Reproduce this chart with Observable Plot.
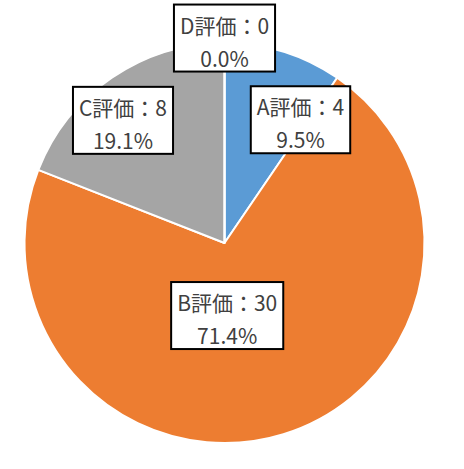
<!DOCTYPE html>
<html>
<head>
<meta charset="utf-8">
<script src="https://cdn.jsdelivr.net/npm/d3@7"></script>
<script src="https://cdn.jsdelivr.net/npm/@observablehq/plot@0.6"></script>
<style>
  html, body { margin: 0; padding: 0; background: #ffffff; }
  #chart { width: 464px; height: 469px; }
</style>
</head>
<body>
<div id="chart"></div>
<script>
// ---- data ----
const categories = ["A評価", "B評価", "C評価", "D評価"];
const counts = [4, 30, 8, 0];
const percentLabels = ["9.5%", "71.4%", "19.1%", "0.0%"];
const colors = ["#5B9BD5", "#ED7D31", "#A5A5A5", "#FFC000"];

// ---- layout (label anchors in pie-radius units, relative to pie centre) ----
const labelDX = [0.3775, 0.011, -0.51, -0.0025];
const labelDY = [0.6115, -0.3675, 0.6085, 1.02];

const W = 464, H = 469, R = 200, CX = 224.5, CY = 243;

const table = categories.map((c, i) => ({
  cat: c, count: counts[i], pct: percentLabels[i], color: colors[i],
  lx: labelDX[i], ly: labelDY[i]
}));

function pieMark(index, scales) {
  const cx = scales.x(0), cy = scales.y(0);
  const r = scales.x(1) - scales.x(0);
  const arcs = d3.pie().sort(null).value(d => d.count)(table);
  const arc = d3.arc().innerRadius(0).outerRadius(r);
  const g = d3.create("svg:g").attr("transform", `translate(${cx},${cy})`);
  g.selectAll("path").data(arcs).join("path")
    .attr("d", arc)
    .attr("fill", d => d.data.color)
    .attr("stroke", "#ffffff")
    .attr("stroke-width", 2)
    .attr("stroke-linejoin", "round");
  return g.node();
}

const plot = Plot.plot({
  width: W, height: H,
  margin: 0,
  style: { background: "#ffffff", fontFamily: "'Noto Sans CJK JP', sans-serif" },
  x: { domain: [-CX / R, (W - CX) / R], range: [0, W], axis: null },
  y: { domain: [-(H - CY) / R, CY / R], range: [H, 0], axis: null },
  marks: [
    pieMark,
    Plot.text(table, {
      x: "lx", y: "ly",
      text: d => `${d.cat}：${d.count}\n${d.pct}`,
      fontSize: 21,
      lineHeight: 1.57,
      fill: "#404040",
      fontFamily: "'Noto Sans CJK JP', sans-serif"
    })
  ]
});

document.getElementById("chart").appendChild(plot);

// label boxes behind the text
plot.querySelectorAll('g[aria-label="text"] text').forEach(t => {
  const bb = t.getBBox();
  const rect = document.createElementNS("http://www.w3.org/2000/svg", "rect");
  const h = 67, padX = 6;
  const cyb = bb.y + bb.height / 2 - 3;
  rect.setAttribute("x", bb.x - padX);
  rect.setAttribute("y", cyb - h / 2);
  rect.setAttribute("width", bb.width + 2 * padX);
  rect.setAttribute("height", h);
  rect.setAttribute("fill", "#ffffff");
  rect.setAttribute("stroke", "#000000");
  rect.setAttribute("stroke-width", 2);
  const tr = t.getAttribute("transform");
  if (tr) rect.setAttribute("transform", tr);
  t.parentNode.insertBefore(rect, t);
});
</script>
</body>
</html>
